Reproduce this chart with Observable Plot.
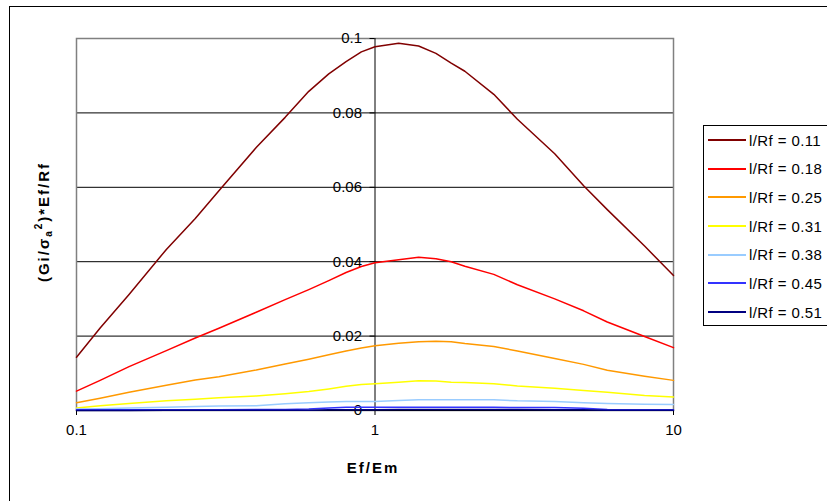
<!DOCTYPE html>
<html><head><meta charset="utf-8">
<script src="https://cdn.jsdelivr.net/npm/d3@7"></script>
<script src="https://cdn.jsdelivr.net/npm/@observablehq/plot@0.6"></script>
<style>
html,body{margin:0;padding:0;background:#fff;overflow:hidden;}
#wrap{position:relative;width:827px;height:501px;font-family:"Liberation Sans",Arial,sans-serif;color:#000;}
#outer{position:absolute;left:9px;top:6px;width:900px;height:600px;border:1.5px solid #000;box-sizing:border-box;}
#chart{position:absolute;left:0;top:0;}
.title{position:absolute;font-weight:bold;font-size:15px;letter-spacing:2px;white-space:nowrap;line-height:16px;}
#ytitle{left:44px;top:222px;transform:translate(-50%,-50%) rotate(-90deg);}
#xtitle{left:373px;top:468px;transform:translate(-50%,-50%);}
#legend{position:absolute;left:703px;top:125px;width:140px;height:201px;border:1px solid #000;box-sizing:border-box;background:#fff;}
.row{position:absolute;left:0;height:20px;display:flex;align-items:center;font-size:15px;letter-spacing:0.4px;white-space:nowrap;}
.sw{width:38px;height:0;border-top:2px solid;margin-left:4px;margin-right:3px;}
</style></head>
<body>
<div id="wrap">
  <div id="outer"></div>
  <div id="chart"></div>
  <div id="ytitle" class="title">(Gi/σ<sub style="font-size:10px;vertical-align:-3px">a</sub><sup style="font-size:10px;vertical-align:7px">2</sup>)*Ef/Rf</div>
  <div id="xtitle" class="title">Ef/Em</div>
  <div id="legend"></div>
</div>
<script>
// x values (Ef/Em)
const efem = [0.1, 0.12, 0.15, 0.2, 0.25, 0.3, 0.4, 0.5, 0.6, 0.7, 0.8, 0.9, 1, 1.2, 1.4, 1.6, 1.8, 2, 2.5, 3, 4, 5, 6, 8, 10];
// series values (Gi/σa²)*Ef/Rf
const s011 = [0.0143, 0.0222, 0.0312, 0.0433, 0.0516, 0.0591, 0.0707, 0.0788, 0.0858, 0.0905, 0.0938, 0.0964, 0.0978, 0.0987, 0.0980, 0.0960, 0.0934, 0.0912, 0.0850, 0.0783, 0.0690, 0.0604, 0.0540, 0.0442, 0.0363];
const s018 = [0.0052, 0.0081, 0.0118, 0.0161, 0.0195, 0.0221, 0.0264, 0.0298, 0.0325, 0.0349, 0.0371, 0.0387, 0.0397, 0.0405, 0.0412, 0.0408, 0.0400, 0.0388, 0.0366, 0.0338, 0.0300, 0.0268, 0.0238, 0.0199, 0.0169];
const s025 = [0.0021, 0.0033, 0.0049, 0.0068, 0.0082, 0.0091, 0.0109, 0.0125, 0.0138, 0.0150, 0.0160, 0.0168, 0.0174, 0.0181, 0.0185, 0.0186, 0.0185, 0.0180, 0.0172, 0.0160, 0.0140, 0.0124, 0.0108, 0.0092, 0.0081];
const s031 = [0.0007, 0.0013, 0.0019, 0.0026, 0.0030, 0.0034, 0.0039, 0.0045, 0.0051, 0.0058, 0.0065, 0.0070, 0.0072, 0.0076, 0.0080, 0.0079, 0.0076, 0.0075, 0.0072, 0.0066, 0.0060, 0.0054, 0.0049, 0.0040, 0.0036];
const s038 = [0.0004, 0.0005, 0.0007, 0.0009, 0.0011, 0.0012, 0.0013, 0.0018, 0.0021, 0.0023, 0.0024, 0.0024, 0.0024, 0.0027, 0.0029, 0.0029, 0.0029, 0.0029, 0.0029, 0.0026, 0.0024, 0.0021, 0.0019, 0.0017, 0.0016];
const s045 = [0.0002, 0.0002, 0.0002, 0.0002, 0.0002, 0.0002, 0.0003, 0.0003, 0.0004, 0.0007, 0.0009, 0.0009, 0.0009, 0.0009, 0.0009, 0.0009, 0.0009, 0.0009, 0.0009, 0.0008, 0.0008, 0.0006, 0.0003, 0.0002, 0.0002];
const s051 = [0.0000, 0.0000, 0.0000, 0.0001, 0.0001, 0.0001, 0.0001, 0.0001, 0.0001, 0.0002, 0.0002, 0.0002, 0.0002, 0.0003, 0.0003, 0.0003, 0.0003, 0.0003, 0.0003, 0.0003, 0.0002, 0.0002, 0.0001, 0.0001, 0.0001];
const seriesNames = ["l/Rf = 0.11", "l/Rf = 0.18", "l/Rf = 0.25", "l/Rf = 0.31", "l/Rf = 0.38", "l/Rf = 0.45", "l/Rf = 0.51"];
const seriesColors = ["#800000", "#FF0000", "#FF9900", "#FFFF00", "#99CCFF", "#3333FF", "#000080"];
const seriesValues = [s011, s018, s025, s031, s038, s045, s051];
// ticks
const xTicks = [0.1, 1, 10];
const xTickLabels = ["0.1", "1", "10"];
const yTicks = [0, 0.02, 0.04, 0.06, 0.08, 0.1];
const yTickLabels = ["0", "0.02", "0.04", "0.06", "0.08", "0.1"];

const rows = [];
seriesValues.forEach((vals, i) => vals.forEach((v, j) => rows.push({series: seriesNames[i], x: efem[j], y: v})));

const chart = Plot.plot({
  width: 827, height: 501,
  marginLeft: 76, marginRight: 154, marginTop: 38, marginBottom: 91,
  x: {type: "log", domain: [0.1, 10]},
  y: {domain: [0, 0.1]},
  color: {domain: seriesNames, range: seriesColors},
  style: {fontFamily: "'Liberation Sans', Arial, sans-serif", fontSize: "15px", background: "transparent", color: "#000", overflow: "visible"},
  marks: [
    Plot.ruleY(yTicks.slice(1, -1), {stroke: "#000", strokeWidth: 1}),
    Plot.frame({stroke: "#808080", strokeWidth: 1.5}),
    Plot.ruleX([1], {stroke: "#000", strokeWidth: 1}),
    Plot.ruleY([0], {stroke: "#000", strokeWidth: 1}),
    Plot.axisY(yTicks, {x: 1, anchor: "left", tickSize: 5, tickPadding: 8, label: null,
      tickFormat: (d) => yTickLabels[yTicks.indexOf(d)]}),
    Plot.axisX(xTicks, {anchor: "bottom", tickSize: 5, tickPadding: 9, label: null,
      tickFormat: (d) => xTickLabels[xTicks.indexOf(d)]}),
    Plot.line(rows, {x: "x", y: "y", z: "series", stroke: "series", strokeWidth: 1.5})
  ]
});
document.getElementById("chart").appendChild(chart);

const legend = document.getElementById("legend");
seriesNames.forEach((name, i) => {
  const r = document.createElement("div");
  r.className = "row";
  r.style.top = (15 - 10 + i * 28.67 - 1) + "px";
  r.innerHTML = `<div class="sw" style="border-color:${seriesColors[i]}"></div><span>${name}</span>`;
  legend.appendChild(r);
});
</script>
</body></html>
